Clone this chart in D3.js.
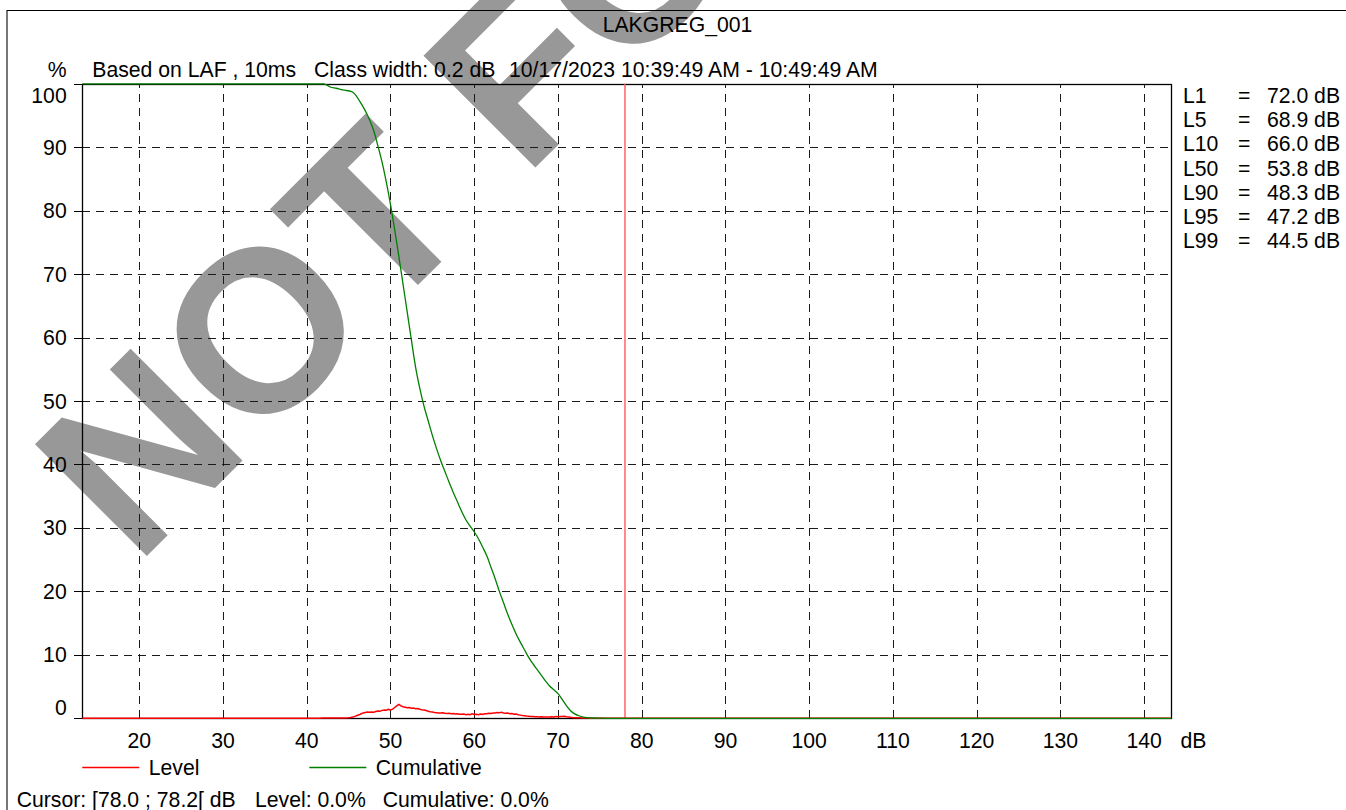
<!DOCTYPE html>
<html>
<head>
<meta charset="utf-8">
<script src="https://cdn.jsdelivr.net/npm/d3@7"></script>
<style>
  html, body { margin: 0; padding: 0; background: #fff; }
  svg { display: block; font-family: "Liberation Sans", Arial, sans-serif; }
  text { white-space: pre; }
</style>
</head>
<body>
<svg id="chart" width="1346" height="810"></svg>
<script>
// ---------- data ----------
const chartTitle = "LAKGREG_001";
const subtitleParts = ["Based on LAF , 10ms", "Class width: 0.2 dB", "10/17/2023 10:39:49 AM - 10:49:49 AM"];
const xTicks = [20, 30, 40, 50, 60, 70, 80, 90, 100, 110, 120, 130, 140];
const yTicks = [0, 10, 20, 30, 40, 50, 60, 70, 80, 90, 100];
const xDomain = [13.2, 143.2];
const cursorDb = 78.0;

const statNames = ["L1", "L5", "L10", "L50", "L90", "L95", "L99"];
const statValues = ["72.0 dB", "68.9 dB", "66.0 dB", "53.8 dB", "48.3 dB", "47.2 dB", "44.5 dB"];

const legendNames = ["Level", "Cumulative"];
const cursorParts = ["Cursor: [78.0 ; 78.2[ dB", "Level: 0.0%", "Cumulative: 0.0%"];
const watermarkText = "NOT FOR";

// Cumulative (% of time level exceeded)
const cumDb  = [13.2, 42.0, 42.4, 42.8, 43.5, 44.5, 45.3, 45.8, 46.3, 46.8, 47.2, 47.6, 48.0, 48.5, 49.0, 49.5, 50.0,
                50.5, 51.0, 51.5, 52.0, 52.5, 53.0, 53.5, 54.0, 54.5, 55.0, 55.5, 56.0, 56.5, 57.0, 57.5, 58.0,
                58.5, 59.0, 59.5, 60.0, 60.5, 61.0, 61.5, 62.0, 62.5, 63.0, 63.5, 64.0, 64.5, 65.0, 65.5, 66.0,
                66.5, 67.0, 67.5, 68.0, 68.5, 69.0, 69.5, 70.0, 70.5, 71.0, 71.5, 72.0, 72.5, 73.0, 73.5, 74.0,
                75.0, 76.0, 143.2];
const cumPct = [100, 100, 99.8, 99.5, 99.3, 99.0, 98.8, 98.3, 97.3, 96.2, 95.2, 94.0, 92.6, 90.2, 87.6, 84.5, 81.0,
                77.0, 72.8, 68.4, 64.0, 59.6, 55.3, 52.0, 49.2, 46.9, 44.6, 42.5, 40.6, 38.9, 37.2, 35.6, 34.1,
                32.6, 31.3, 30.3, 29.4, 28.3, 27.0, 25.6, 23.8, 22.0, 20.0, 18.2, 16.4, 14.8, 13.3, 12.0, 10.8,
                9.6, 8.6, 7.7, 6.8, 5.9, 5.1, 4.5, 3.9, 3.0, 2.0, 1.2, 0.7, 0.4, 0.2, 0.1, 0.05,
                0.02, 0, 0];

// Level (% of time in each class)
const levelDb = [13.2, 41.0, 41.5, 42.0, 42.5, 43.0, 43.5, 44.0, 44.5,
  45.0, 45.25, 45.5, 45.75, 46.0, 46.25, 46.5, 46.75, 47.0, 47.25, 47.5, 47.75, 48.0, 48.25, 48.5, 48.75,
  49.0, 49.25, 49.5, 49.75, 50.0, 50.25, 50.5, 50.75, 51.0, 51.25, 51.5, 51.75, 52.0, 52.25, 52.5, 52.75,
  53.0, 53.25, 53.5, 53.75, 54.0, 54.25, 54.5, 54.75, 55.0, 55.25, 55.5, 55.75, 56.0, 56.25, 56.5, 56.75,
  57.0, 57.25, 57.5, 57.75, 58.0, 58.25, 58.5, 58.75, 59.0, 59.25, 59.5, 59.75, 60.0, 60.25, 60.5, 60.75,
  61.0, 61.25, 61.5, 61.75, 62.0, 62.25, 62.5, 62.75, 63.0, 63.25, 63.5, 63.75, 64.0, 64.25, 64.5, 64.75,
  65.0, 65.25, 65.5, 65.75, 66.0, 66.25, 66.5, 66.75, 67.0, 67.25, 67.5, 67.75, 68.0, 68.25, 68.5, 68.75,
  69.0, 69.25, 69.5, 69.75, 70.0, 70.25, 70.5, 70.75, 71.0, 71.25, 71.5, 71.75, 72.0,
  72.5, 73.0, 73.5, 74.0, 74.5, 75.0, 143.2];
const levelPct = [0, 0, 0.02, 0.05, 0.06, 0.04, 0.03, 0.04, 0.05,
  0.08, 0.12, 0.2, 0.3, 0.45, 0.55, 0.72, 0.85, 0.92, 0.98, 0.94, 1.0, 0.97, 1.08, 1.15, 1.1,
  1.25, 1.3, 1.26, 1.4, 1.3, 1.45, 1.7, 1.95, 2.2, 1.95, 1.82, 1.75, 1.68, 1.7, 1.6, 1.62,
  1.52, 1.55, 1.42, 1.35, 1.3, 1.22, 1.12, 1.05, 1.0, 0.92, 0.88, 0.84, 0.82, 0.86, 0.8, 0.76,
  0.78, 0.72, 0.74, 0.68, 0.7, 0.64, 0.62, 0.66, 0.58, 0.62, 0.56, 0.72, 0.6, 0.64, 0.58, 0.66,
  0.62, 0.7, 0.72, 0.78, 0.76, 0.84, 0.82, 0.9, 0.88, 0.94, 0.84, 0.8, 0.82, 0.72, 0.76, 0.64,
  0.66, 0.56, 0.5, 0.44, 0.4, 0.36, 0.33, 0.3, 0.28, 0.26, 0.25, 0.22, 0.24, 0.2, 0.21, 0.19,
  0.22, 0.24, 0.22, 0.27, 0.26, 0.3, 0.28, 0.32, 0.25, 0.2, 0.15, 0.12, 0.1,
  0.07, 0.05, 0.03, 0.02, 0.01, 0, 0];

// ---------- drawing ----------
(function () {
const svg = d3.select("#chart");
const FONT = 21.2;
const pL = 82.3, pR = 1171, pT = 83.8, pB = 718.3;
const x = d3.scaleLinear().domain(xDomain).range([pL, pR]);
const y = d3.scaleLinear().domain([0, 100]).range([pB, pT]);

// watermark (behind everything)
svg.append("text")
  .attr("transform", "translate(136,567) rotate(-45)")
  .attr("font-size", 230).attr("font-weight", "bold")
  .attr("fill", "#989898")
  .text(watermarkText);

// outer frame
svg.append("line").attr("x1", 7).attr("x2", 7).attr("y1", 10).attr("y2", 810)
  .attr("stroke", "#777").attr("stroke-width", 2);
svg.append("line").attr("x1", 7).attr("x2", 1346).attr("y1", 10.5).attr("y2", 10.5)
  .attr("stroke", "#000").attr("stroke-width", 1);

// title & subtitle
svg.append("text").attr("x", 677.5).attr("y", 32).attr("text-anchor", "middle")
  .attr("font-size", FONT).attr("fill", "#000").text(chartTitle);
svg.append("text").attr("x", 66.7).attr("y", 77).attr("text-anchor", "end")
  .attr("font-size", FONT).text("%");
const subX = [92.3, 314, 509];
subtitleParts.forEach((s, i) => {
  svg.append("text").attr("x", subX[i]).attr("y", 77).attr("font-size", FONT).text(s);
});

// gridlines
const grid = svg.append("g").attr("stroke", "#1a1a1a").attr("stroke-width", 1)
  .attr("stroke-dasharray", "8,6").attr("shape-rendering", "crispEdges");
grid.selectAll("line.v").data(xTicks).join("line").attr("class", "v")
  .attr("x1", d => Math.round(x(d)) + 0.5).attr("x2", d => Math.round(x(d)) + 0.5)
  .attr("y1", pB).attr("y2", pT);
grid.selectAll("line.h").data(yTicks.filter(d => d > 0 && d < 100)).join("line").attr("class", "h")
  .attr("x1", pL).attr("x2", pR)
  .attr("y1", d => Math.round(y(d)) + 0.5).attr("y2", d => Math.round(y(d)) + 0.5);

// y ticks (left)
svg.append("g").attr("stroke", "#000").attr("shape-rendering", "crispEdges")
  .selectAll("line").data(yTicks).join("line")
  .attr("x1", pL - 8.5).attr("x2", pL)
  .attr("y1", d => Math.round(y(d)) + 0.5).attr("y2", d => Math.round(y(d)) + 0.5);

// plot frame
svg.append("rect").attr("x", Math.round(pL) + 0.5).attr("y", Math.round(pT) + 0.5)
  .attr("width", Math.round(pR) - Math.round(pL)).attr("height", Math.round(pB) - Math.round(pT))
  .attr("fill", "none").attr("stroke", "#000").attr("stroke-width", 1.3);

// y labels
svg.append("g").selectAll("text").data(yTicks).join("text")
  .attr("x", 66.7)
  .attr("y", d => d === 100 ? y(d) + 19 : (d === 0 ? y(d) - 3 : y(d) + 7.5))
  .attr("text-anchor", "end").attr("font-size", FONT).text(d => d);

// x labels
svg.append("g").selectAll("text").data(xTicks).join("text")
  .attr("x", d => x(d)).attr("y", 747.5)
  .attr("text-anchor", "middle").attr("font-size", FONT).text(d => d);
svg.append("text").attr("x", 1180.5).attr("y", 747.5).attr("font-size", FONT).text("dB");

// cursor line
svg.append("line").attr("x1", x(cursorDb)).attr("x2", x(cursorDb))
  .attr("y1", pT).attr("y2", pB)
  .attr("stroke", "#ff5a5a").attr("stroke-width", 1.4);

// curves
const lineGen = d3.line().x(d => x(d[0])).y(d => y(d[1]));
svg.append("path").datum(levelDb.map((d, i) => [d, levelPct[i]]))
  .attr("d", lineGen).attr("fill", "none").attr("stroke", "#ff0000").attr("stroke-width", 1.5);
svg.append("path").datum(cumDb.map((d, i) => [d, cumPct[i]]))
  .attr("d", d3.line().x(d => x(d[0])).y(d => y(d[1])).curve(d3.curveMonotoneX))
  .attr("fill", "none").attr("stroke", "#008000").attr("stroke-width", 1.3);

// stats
const stats = svg.append("g").attr("font-size", FONT);
statNames.forEach((n, i) => {
  const yy = 103 + i * 24.2;
  stats.append("text").attr("x", 1183).attr("y", yy).text(n);
  stats.append("text").attr("x", 1238).attr("y", yy).text("=");
  stats.append("text").attr("x", 1267).attr("y", yy).text(statValues[i]);
});

// legend
const legColors = ["#ff0000", "#008000"];
const legX = [82.3, 309.3];
legendNames.forEach((n, i) => {
  svg.append("line").attr("x1", legX[i]).attr("x2", legX[i] + 57)
    .attr("y1", 767.5).attr("y2", 767.5).attr("stroke", legColors[i]).attr("stroke-width", 1.3);
  svg.append("text").attr("x", legX[i] + 66.5).attr("y", 775).attr("font-size", FONT).text(n);
});

// cursor info
const curX = [16.7, 255, 382.7];
cursorParts.forEach((s, i) => {
  svg.append("text").attr("x", curX[i]).attr("y", 807).attr("font-size", FONT).text(s);
});
})();
</script>
</body>
</html>
